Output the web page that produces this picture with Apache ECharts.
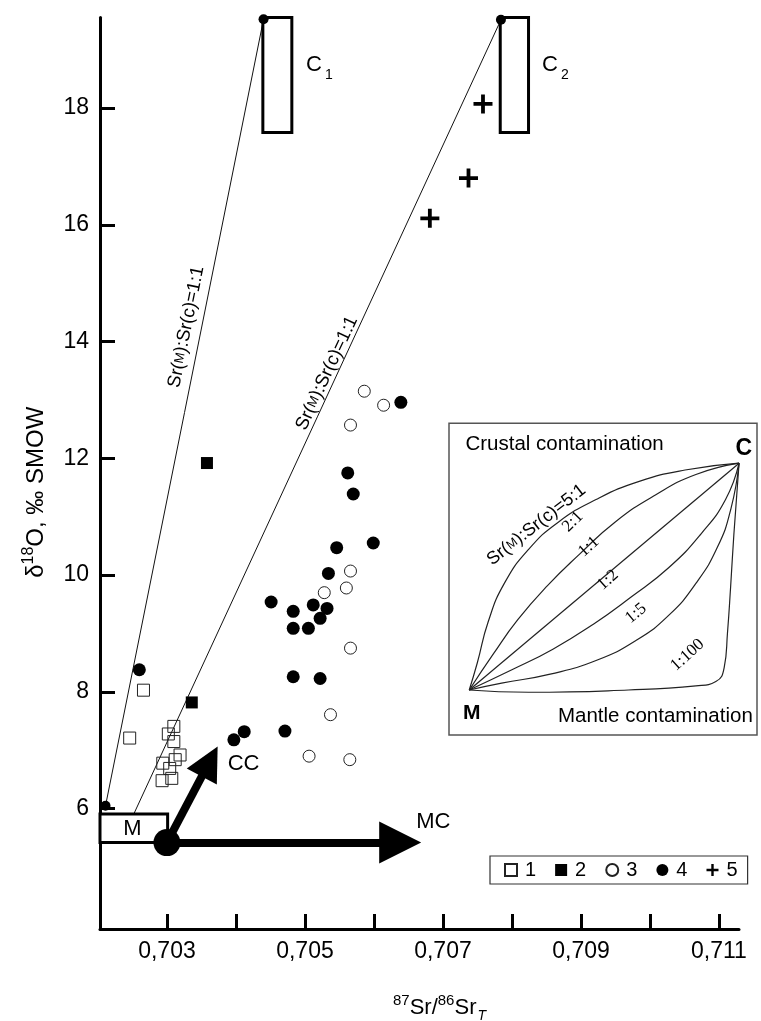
<!DOCTYPE html>
<html>
<head>
<meta charset="utf-8">
<script src="https://cdn.jsdelivr.net/npm/echarts@6/dist/echarts.min.js"></script>
<style>
  html, body { margin: 0; padding: 0; background: #fff; }
  #chart { width: 761px; height: 1021px; }
</style>
</head>
<body>
<div id="chart"></div>
<script>
// Sample groups: [87Sr/86Sr(T), δ18O ‰ SMOW]
const group1 = [[0.70266, 8.03], [0.70246, 7.21], [0.70310, 7.41], [0.70302, 7.28], [0.70310, 7.15],
                [0.70319, 6.92], [0.70312, 6.84], [0.70294, 6.78], [0.70304, 6.69], [0.70307, 6.52], [0.70293, 6.48]];
const group2 = [[0.70358, 11.92], [0.70336, 7.82]];
const group3 = [[0.70586, 13.15], [0.70614, 12.91], [0.70566, 12.57], [0.70566, 10.07], [0.70560, 9.78],
                [0.70528, 9.70], [0.70566, 8.75], [0.70537, 7.61], [0.70506, 6.90], [0.70565, 6.84]];
const group4 = [[0.70639, 12.96], [0.70562, 11.75], [0.70570, 11.39], [0.70546, 10.47], [0.70599, 10.55],
                [0.70534, 10.03], [0.70451, 9.54], [0.70512, 9.49], [0.70532, 9.43], [0.70483, 9.38],
                [0.70522, 9.26], [0.70483, 9.09], [0.70505, 9.09], [0.70483, 8.26], [0.70522, 8.23],
                [0.70471, 7.33], [0.70412, 7.32], [0.70397, 7.18], [0.70260, 8.38]];
const group5 = [[0.70758, 18.07], [0.70737, 16.80], [0.70681, 16.11]];

// End members: [x0, y0, x1, y1]
const mantleBox = [0.70203, 5.42, 0.70301, 5.91];
const crustBox1 = [0.70439, 17.58, 0.70481, 19.55];
const crustBox2 = [0.70783, 17.58, 0.70824, 19.55];
// Mixing lines Sr(M):Sr(c)=1:1
const mixLine1 = [[0.70211, 6.05], [0.70440, 19.52]];
const mixLine2 = [[0.70252, 5.91], [0.70784, 19.51]];
const endPoints = [[0.70211, 6.05], [0.70440, 19.52], [0.70784, 19.51]];
// Mantle source and contamination vectors
const mantlePoint = [[0.70300, 5.42]];
const mcVector = [[0.70300, 5.42], [0.70638, 5.42]];
const ccVector = [[0.70300, 5.42], [0.70362, 6.81]];

// Axis ticks
const xTicks = [0.703, 0.704, 0.705, 0.706, 0.707, 0.708, 0.709, 0.710, 0.711];
const xLabels = [0.703, 0.705, 0.707, 0.709, 0.711];
const yTicks = [6, 8, 10, 12, 14, 16, 18];

// Inset: mixing curves between M (0,0) and C (1,1) for Sr(M):Sr(c) ratios
const curve5to1 = [[0, 0], [0.03, 0.12], [0.07, 0.30], [0.13, 0.47], [0.22, 0.62], [0.33, 0.74], [0.47, 0.84], [0.63, 0.92], [0.80, 0.97], [1, 1]];
const curve2to1 = [[0, 0], [0.09, 0.16], [0.18, 0.31], [0.29, 0.46], [0.41, 0.60], [0.54, 0.74], [0.69, 0.86], [0.84, 0.95], [1, 1]];
const curve1to1 = [[0, 0], [1, 1]];
const curve1to2 = [[0, 0], [0.16, 0.09], [0.31, 0.18], [0.46, 0.29], [0.60, 0.41], [0.74, 0.54], [0.86, 0.69], [0.95, 0.84], [1, 1]];
const curve1to5 = [[0, 0], [0.12, 0.03], [0.30, 0.07], [0.47, 0.13], [0.62, 0.22], [0.74, 0.33], [0.84, 0.47], [0.92, 0.63], [0.97, 0.80], [1, 1]];
const curve1to100 = [[0, 0], [0.22, -0.01], [0.59, 0], [0.84, 0.018], [0.914, 0.037], [0.945, 0.10], [0.957, 0.25], [0.969, 0.46], [0.981, 0.69], [1, 1]];

const FONT = 'Liberation Sans, Arial, Helvetica, sans-serif';
const SERIF = 'Liberation Serif, Times New Roman, serif';
const INK = '#000';

const fmtX = v => v.toFixed(3).replace('.', ',');

// Text annotation helper: a transparent point carrying a label
function note(pos, text, opts) {
  return {
    value: pos,
    label: Object.assign({ show: true, formatter: text, position: 'inside', color: INK, fontFamily: FONT }, opts || {})
  };
}

const smallM = { fontSize: 13, fontFamily: FONT, color: INK };
const subRich = {
  b: { fontSize: 22, lineHeight: 22, fontFamily: FONT, color: INK },
  s: { fontSize: 14, lineHeight: 14, padding: [20, 0, 0, 3], fontFamily: FONT, color: INK }
};

const mainNotes = [
  note([0.70250, 5.66], 'M', { fontSize: 22 }),
  note([0.70411, 6.77], 'CC', { fontSize: 22 }),
  note([0.70686, 5.77], 'MC', { fontSize: 22 }),
  note([0.70521, 18.73], '{b|C}{s|1}', { rich: subRich }),
  note([0.70863, 18.73], '{b|C}{s|2}', { rich: subRich }),
  note([0.70328, 14.25], '{t|Sr(}{m|M}{t|):Sr(c)=1:1}', {
    rotate: 78.5,
    rich: { t: { fontSize: 18.5, fontFamily: FONT, color: INK }, m: smallM }
  }),
  note([0.70532, 13.46], '{t|Sr(}{m|M}{t|):Sr(c)=1:1}', {
    rotate: 65,
    rich: { t: { fontSize: 18.5, fontFamily: FONT, color: INK }, m: smallM }
  })
];

const insetNotes = [
  note([-0.016, 1.081], 'Crustal contamination', { fontSize: 20.5, position: 'right', distance: 0 }),
  note([0.327, -0.118], 'Mantle contamination', { fontSize: 20.5, position: 'right', distance: 0 }),
  note([1.018, 1.063], 'C', { fontSize: 23, fontWeight: 'bold' }),
  note([0.009, -0.103], 'M', { fontSize: 21, fontWeight: 'bold' }),
  note([0.249, 0.728], '{t|Sr(}{m|M}{t|):Sr(c)=5:1}', {
    rotate: 38,
    rich: { t: { fontSize: 18, fontFamily: FONT, color: INK }, m: { fontSize: 12.5, fontFamily: FONT, color: INK } }
  }),
  note([0.384, 0.742], '2:1', { rotate: 45, fontSize: 17, fontFamily: SERIF }),
  note([0.443, 0.632], '1:1', { rotate: 42, fontSize: 17, fontFamily: SERIF }),
  note([0.514, 0.485], '1:2', { rotate: 42, fontSize: 17, fontFamily: SERIF }),
  note([0.618, 0.338], '1:5', { rotate: 40, fontSize: 17, fontFamily: SERIF }),
  note([0.809, 0.154], '1:100', { rotate: 42, fontSize: 17, fontFamily: SERIF })
];

const plusPath = 'path://M-1,-5H1V-1H5V1H1V5H-1V1H-5V-1H-1Z';

function curve(data) {
  return {
    type: 'line', xAxisIndex: 1, yAxisIndex: 1, data: data,
    smooth: 0.5, showSymbol: false, silent: true, z: 3,
    lineStyle: { color: '#222', width: 1.2 }
  };
}

function boxItem(params, api) {
  const p0 = api.coord([api.value(0), api.value(3)]);
  const p1 = api.coord([api.value(2), api.value(1)]);
  return {
    type: 'rect',
    shape: { x: p0[0], y: p0[1], width: p1[0] - p0[0], height: p1[1] - p0[1] },
    style: { fill: api.value(4) ? '#fff' : 'rgba(0,0,0,0)', stroke: INK, lineWidth: 3 }
  };
}

const noteStyle = { color: 'rgba(0,0,0,0)', opacity: 1 };

const option = {
  backgroundColor: '#fff',
  animation: false,
  textStyle: { fontFamily: FONT, color: INK },
  grid: [
    { left: 100, right: 22, top: 17.5, bottom: 92, containLabel: false, outerBoundsMode: 'none' },
    { left: 449, top: 423.3, width: 308, height: 311.7, show: true, outerBoundsMode: 'none',
      backgroundColor: '#fff', borderColor: '#555', borderWidth: 1.5, z: 1 }
  ],
  legend: {
    data: ['1', '2', '3', '4', '5'],
    left: 490, top: 856, orient: 'horizontal',
    padding: [4, 10, 4, 14],
    itemWidth: 12, itemHeight: 12, itemGap: 19,
    borderColor: '#333', borderWidth: 1.2, borderRadius: 0,
    backgroundColor: '#fff',
    textStyle: { fontSize: 20, fontFamily: FONT, color: INK, padding: [0, 0, 0, 3] }
  },
  xAxis: [
    {
      type: 'value', min: 0.70203, max: 0.71129,
      name: '{sup|87}{b|Sr/}{sup|86}{b|Sr}{sub|T}',
      nameLocation: 'middle', nameGap: 68,
      nameTextStyle: {
        padding: [0, 0, 0, 40],
        rich: {
          b: { fontSize: 22, fontFamily: FONT, color: INK, lineHeight: 22 },
          sup: { fontSize: 15, fontFamily: FONT, color: INK, lineHeight: 15, padding: [0, 0, 14, 0] },
          sub: { fontSize: 14, fontFamily: FONT, color: INK, fontStyle: 'italic', lineHeight: 14, padding: [16, 0, 0, 1] }
        }
      },
      axisLine: { show: true, onZero: false, lineStyle: { color: INK, width: 3 } },
      axisTick: { show: true, inside: true, length: 15, customValues: xTicks, lineStyle: { color: INK, width: 3 } },
      axisLabel: { customValues: xLabels, formatter: fmtX, fontSize: 23, color: INK, margin: 11, fontFamily: FONT },
      splitLine: { show: false }
    },
    { type: 'value', gridIndex: 1, min: -0.075, max: 1.0665, show: false }
  ],
  yAxis: [
    {
      type: 'value', min: 3.94, max: 19.55,
      name: '{b|δ}{sup|18}{b|O, ‰ SMOW}',
      nameLocation: 'middle', nameGap: 52, nameRotate: 90,
      nameTextStyle: {
        padding: [0, 38, 0, 0],
        rich: {
          b: { fontSize: 24, fontFamily: FONT, color: INK, lineHeight: 24 },
          sup: { fontSize: 16, fontFamily: FONT, color: INK, lineHeight: 16, padding: [0, 0, 14, 0] }
        }
      },
      axisLine: { show: true, onZero: false, lineStyle: { color: INK, width: 3 } },
      axisTick: { show: true, inside: true, length: 15, customValues: yTicks, lineStyle: { color: INK, width: 3 } },
      axisLabel: { customValues: yTicks, fontSize: 23, color: INK, margin: 11, fontFamily: FONT },
      splitLine: { show: false }
    },
    { type: 'value', gridIndex: 1, min: -0.1985, max: 1.176, show: false }
  ],
  series: [
    // mixing lines
    { type: 'line', data: mixLine1, showSymbol: false, silent: true, z: 2,
      lineStyle: { color: '#111', width: 1 } },
    { type: 'line', data: mixLine2, showSymbol: false, silent: true, z: 2,
      lineStyle: { color: '#111', width: 1 } },
    // end-member boxes
    { type: 'custom', renderItem: boxItem, clip: false, silent: true, z: 3,
      encode: { x: [0, 2], y: [1, 3] },
      data: [crustBox1.concat(0), crustBox2.concat(0), mantleBox.concat(1)] },
    { type: 'scatter', data: endPoints, symbol: 'circle', symbolSize: 10, silent: true, z: 4,
      itemStyle: { color: INK, opacity: 1 } },
    // contamination vectors
    { type: 'lines', coordinateSystem: 'cartesian2d', polyline: false, silent: true, z: 4,
      data: [{ coords: mcVector }],
      symbol: ['none', 'triangle'], symbolSize: 42,
      lineStyle: { color: INK, width: 8, opacity: 1 } },
    { type: 'lines', coordinateSystem: 'cartesian2d', polyline: false, silent: true, z: 4,
      data: [{ coords: ccVector }],
      symbol: ['none', 'triangle'], symbolSize: 34,
      lineStyle: { color: INK, width: 8, opacity: 1 } },
    { type: 'scatter', data: mantlePoint, symbol: 'circle', symbolSize: 27, silent: true, z: 5,
      itemStyle: { color: INK, opacity: 1 } },
    // samples
    { name: '1', type: 'scatter', data: group1, symbol: 'rect', symbolSize: 12, z: 6,
      itemStyle: { color: 'rgba(255,255,255,0)', borderColor: '#222', borderWidth: 1, opacity: 1 } },
    { name: '2', type: 'scatter', data: group2, symbol: 'rect', symbolSize: 12, z: 6,
      itemStyle: { color: INK, opacity: 1 } },
    { name: '3', type: 'scatter', data: group3, symbol: 'circle', symbolSize: 12, z: 6,
      itemStyle: { color: '#fff', borderColor: '#222', borderWidth: 1, opacity: 1 } },
    { name: '4', type: 'scatter', data: group4, symbol: 'circle', symbolSize: 13, z: 6,
      itemStyle: { color: INK, opacity: 1 } },
    { name: '5', type: 'scatter', data: group5, symbol: plusPath, symbolSize: 19, z: 6,
      itemStyle: { color: INK, opacity: 1 } },
    // annotations in the main plot
    { type: 'scatter', data: mainNotes, symbolSize: 1, silent: true, z: 7, itemStyle: noteStyle },
    // inset: mixing curves
    curve(curve5to1), curve(curve2to1), curve(curve1to1),
    curve(curve1to2), curve(curve1to5), curve(curve1to100),
    { type: 'scatter', xAxisIndex: 1, yAxisIndex: 1, data: insetNotes, symbolSize: 1, silent: true, z: 7,
      itemStyle: noteStyle }
  ]
};

const chart = echarts.init(document.getElementById('chart'));
chart.setOption(option);
</script>
</body>
</html>
